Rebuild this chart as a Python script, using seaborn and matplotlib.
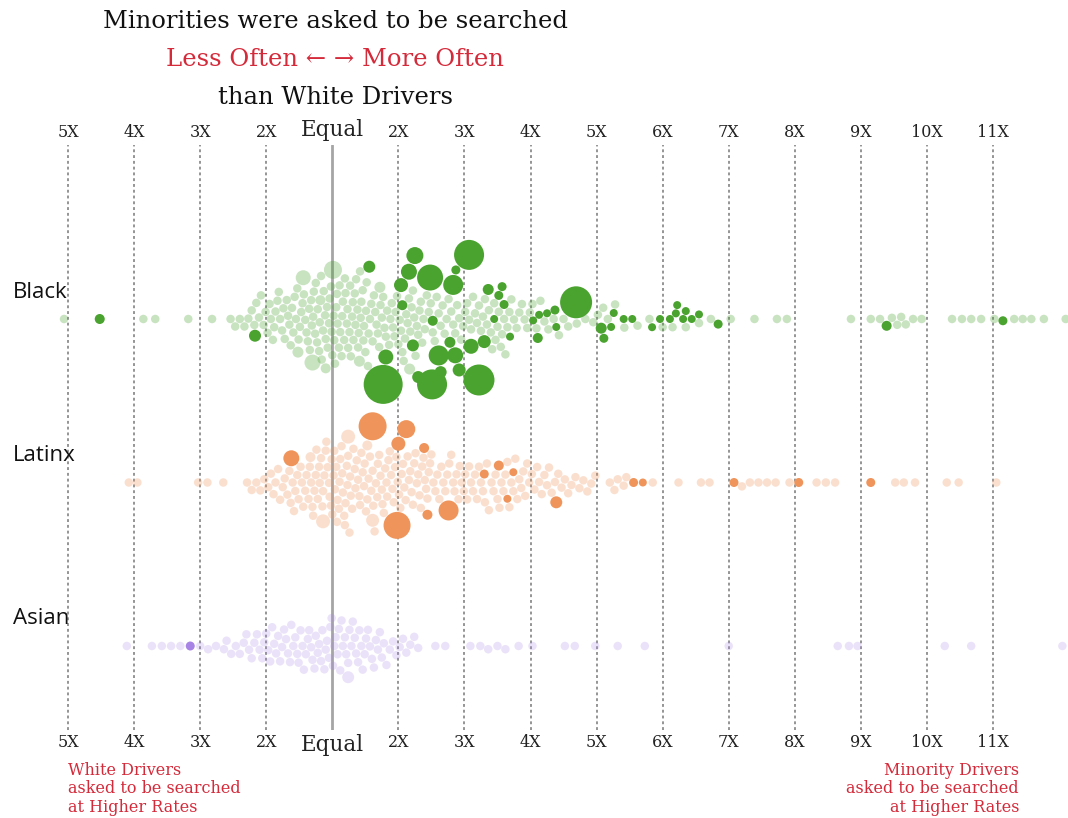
import numpy as np
import pandas as pd
import matplotlib
matplotlib.use("Agg")
import matplotlib.pyplot as plt
import matplotlib.transforms as mtransforms
import seaborn as sns

# ---------------- data ----------------
# x values are on a symmetric "times" scale: 0 = equal, +1 = 2X more often, -1 = 2X less often, ...
groups = ["Black", "Latinx", "Asian"]
tick_pos = [-4, -3, -2, -1, 0, 1, 2, 3, 4, 5, 6, 7, 8, 9, 10]
tick_labels = ["5X", "4X", "3X", "2X", "Equal", "2X", "3X", "4X", "5X",
               "6X", "7X", "8X", "9X", "10X", "11X"]

black_faint = [
    -4.06, -2.86, -2.68, -2.18, -1.82,
    -1.54, -1.47, -1.40, -1.33, -1.27,
    -1.22, -1.18, -1.15, -1.11, -1.08, -1.04, -1.01, -0.98, -0.95,
    -0.93, -0.90, -0.88, -0.86, -0.83, -0.81, -0.79, -0.76, -0.74, -0.72, -0.69, -0.67, -0.65,
    -0.63, -0.61, -0.59, -0.57, -0.55, -0.53, -0.51, -0.49, -0.47, -0.45, -0.43, -0.41, -0.39,
    -0.37, -0.35, -0.34,
    -0.32, -0.31, -0.29, -0.28, -0.26, -0.25, -0.23, -0.22, -0.20, -0.19, -0.17, -0.16, -0.14,
    -0.13, -0.11, -0.10, -0.08, -0.07, -0.05, -0.04, -0.02,
    -0.01, 0.00, 0.02, 0.03, 0.04, 0.06, 0.07, 0.08, 0.10, 0.11, 0.12, 0.14, 0.15, 0.16, 0.18,
    0.19, 0.20, 0.22, 0.23, 0.24, 0.26, 0.27,
    0.28, 0.30, 0.31, 0.32, 0.34, 0.35, 0.36, 0.38, 0.39, 0.40, 0.42, 0.43, 0.44, 0.46, 0.47,
    0.48, 0.50, 0.51, 0.52, 0.54, 0.55, 0.57,
    0.59, 0.61, 0.63, 0.65, 0.67, 0.69, 0.71, 0.73, 0.75, 0.77, 0.79, 0.81, 0.83, 0.86,
    0.88, 0.90, 0.92, 0.94, 0.96, 0.98, 1.00, 1.02, 1.04, 1.06, 1.08, 1.10, 1.12, 1.14, 1.16,
    1.18, 1.20, 1.22, 1.24, 1.26, 1.28, 1.30, 1.32, 1.34, 1.36, 1.38, 1.40, 1.43, 1.46,
    1.49, 1.52, 1.55, 1.58, 1.61, 1.64, 1.67, 1.70, 1.73, 1.76,
    1.80, 1.83, 1.86, 1.89, 1.92, 1.95, 1.98, 2.01, 2.04, 2.07,
    2.10, 2.13, 2.16, 2.19, 2.22, 2.25, 2.28, 2.31, 2.34, 2.37,
    2.40, 2.42, 2.45, 2.47, 2.50, 2.52, 2.55, 2.57, 2.60, 2.62, 2.65, 2.68,
    2.71, 2.75, 2.79, 2.83, 2.87, 2.91, 2.95, 2.99,
    3.03, 3.09, 3.15, 3.21, 3.27, 3.35, 3.43, 3.50, 3.57, 3.70, 3.83,
    3.95, 4.02, 4.10, 4.17, 4.28, 4.42,
    4.62, 4.80, 5.00, 5.15, 5.35, 5.55, 5.73, 6.03, 6.39, 6.73, 6.88,
    7.85, 8.15, 8.29, 8.47, 8.55, 8.61, 8.68, 8.79, 8.92,
    9.38, 9.53, 9.67, 9.82, 10.02, 10.32, 10.45, 10.58, 10.77, 11.10,
]
black_faint_big = [-0.30, -0.52, -0.44, -0.10, 0.01, 0.41, 0.72, 1.17, -0.18]
black_faint_big_size = [16, 11, 15, 10, 18, 11, 11, 11, 10]
black_dark = [
    -3.52, -1.17, 0.77, 1.25, 1.06, 0.56, 0.81, 1.16, 1.04, 1.30, 1.22,
    1.48, 1.92, 2.10, 2.30, 2.57, 2.45, 1.86, 1.64, 1.52, 1.83, 2.22, 1.51,
    1.87, 2.60, 2.69, 2.52, 2.36, 1.78, 2.07, 1.61,
    3.11, 3.37, 3.39, 3.04, 3.13, 3.25, 3.69,
    4.11, 4.26, 4.07, 4.22, 4.41, 4.54, 4.84, 4.96, 5.20, 5.22, 5.35, 5.55,
    5.11, 5.31, 5.44, 5.84, 8.39, 10.15,
]
black_dark_size = [
    10, 12, 39, 17, 10, 12, 15, 16, 14, 12, 12,
    26, 13, 15, 13, 9, 8, 16, 12, 10, 20, 31, 30,
    9, 9, 8, 9, 11, 11, 30, 20,
    10, 9, 8, 8, 8, 8, 32,
    9, 8, 11, 8, 8, 8, 8, 8, 8, 8, 8, 8,
    8, 8, 8, 9, 10, 9,
]

latinx_faint = [
    -3.08, -2.95, -2.03, -1.89, -1.65, -1.29,
    -1.22, -1.15, -1.09, -1.03, -0.97,
    -0.93, -0.89, -0.86, -0.82, -0.79, -0.75, -0.72, -0.68, -0.65,
    -0.63, -0.60, -0.58, -0.56, -0.53, -0.51, -0.48, -0.46, -0.44, -0.41, -0.39, -0.36, -0.34,
    -0.32, -0.30, -0.29, -0.27, -0.25, -0.24, -0.22, -0.20, -0.19, -0.17, -0.15, -0.14, -0.12,
    -0.10, -0.09, -0.07, -0.05, -0.04, -0.02,
    -0.01, 0.00, 0.02, 0.03, 0.04, 0.06, 0.07, 0.08, 0.10, 0.11, 0.12, 0.14, 0.15, 0.16, 0.18,
    0.19, 0.20, 0.22, 0.23, 0.24, 0.26, 0.27,
    0.28, 0.30, 0.32, 0.34, 0.35, 0.37, 0.39, 0.41, 0.42, 0.44, 0.46, 0.48, 0.49, 0.51, 0.53,
    0.55, 0.57,
    0.59, 0.61, 0.62, 0.64, 0.66, 0.68, 0.69, 0.71, 0.73, 0.75, 0.76, 0.78, 0.80, 0.82, 0.83,
    0.85, 0.87,
    0.89, 0.91, 0.93, 0.95, 0.97, 0.99, 1.01, 1.03, 1.05, 1.07, 1.09, 1.11, 1.14, 1.16,
    1.18, 1.20, 1.22, 1.24, 1.26, 1.28, 1.30, 1.32, 1.34, 1.36, 1.38, 1.40, 1.42, 1.44, 1.46, 1.48,
    1.50, 1.53, 1.56, 1.59, 1.62, 1.65, 1.68, 1.71, 1.74, 1.77,
    1.80, 1.83, 1.85, 1.88, 1.91, 1.93, 1.96, 1.99, 2.01, 2.04, 2.07,
    2.10, 2.13, 2.16, 2.19, 2.22, 2.25, 2.28, 2.31, 2.34, 2.37,
    2.41, 2.44, 2.47, 2.50, 2.53, 2.56, 2.59, 2.62, 2.65, 2.68,
    2.71, 2.74, 2.77, 2.80, 2.83, 2.86, 2.89, 2.92, 2.95, 2.98,
    3.02, 3.06, 3.10, 3.13, 3.17, 3.21, 3.25, 3.28,
    3.32, 3.37, 3.42, 3.47, 3.52, 3.57, 3.62, 3.68, 3.74, 3.80, 3.86, 3.92, 3.98,
    4.20, 4.27, 4.32, 4.41, 4.45, 4.85, 5.24, 5.58, 5.71,
    6.20, 6.32, 6.45, 6.58, 6.71, 6.92, 7.33, 7.47, 7.61,
    8.52, 8.65, 8.82, 9.30, 9.48, 10.05,
]
latinx_faint_big = [-0.14, 0.61, 0.24, 0.53, -0.33]
latinx_faint_big_size = [14, 13, 14, 10, 10]
latinx_dark = [
    -0.62, 1.12, 1.39, 0.61, 1.00, 1.76, 0.98, 1.44,
    2.30, 2.74, 2.52, 2.65, 3.39, 4.56, 4.70, 6.08, 7.06, 8.15,
]
latinx_dark_size = [
    16, 18, 10, 28, 14, 20, 27, 10,
    9, 8, 10, 8, 12, 9, 8, 9, 9, 9,
]

asian_faint = [
    -3.11, -2.73, -2.58, -2.44, -2.30, -2.00, -1.88, -1.76, -1.64,
    -1.60, -1.53, -1.46, -1.40, -1.34,
    -1.30, -1.26, -1.22, -1.18, -1.14, -1.10, -1.06, -1.03,
    -1.00, -0.97, -0.94, -0.91, -0.88, -0.85, -0.82, -0.79, -0.76, -0.73,
    -0.70, -0.67, -0.64, -0.62, -0.59, -0.56, -0.53, -0.51, -0.48, -0.45, -0.43,
    -0.40, -0.37, -0.35, -0.32, -0.30, -0.27, -0.25, -0.22, -0.20, -0.17, -0.15, -0.12,
    -0.10, -0.08, -0.05, -0.03, -0.01, 0.01, 0.03, 0.05, 0.08, 0.10, 0.12, 0.14, 0.16, 0.19,
    0.21, 0.24, 0.26, 0.29, 0.31, 0.34, 0.36, 0.39, 0.41, 0.44, 0.46, 0.49,
    0.51, 0.54, 0.57, 0.60, 0.63, 0.66, 0.69, 0.72, 0.75, 0.78,
    0.82, 0.87, 0.92, 0.97, 1.02, 1.07, 1.12, 1.18, 1.24,
    1.30, 1.56, 1.71, 2.09, 2.24, 2.36, 2.50, 2.62, 2.82, 3.03, 3.52, 3.67, 3.98, 4.32, 4.73,
    6.00, 7.65, 7.82, 7.95, 9.27, 9.67, 11.05,
]
asian_faint_big = [0.24]
asian_faint_big_size = [12]
asian_dark = [-2.15]
asian_dark_size = [9]

faint_colors = {"Black": (0.29, 0.64, 0.19, 0.30),
                "Latinx": (0.94, 0.58, 0.36, 0.29),
                "Asian": (0.66, 0.52, 0.89, 0.23)}
dark_colors = {"Black": "#4aa32f", "Latinx": "#ef955c", "Asian": "#a883e6"}
RED = "#d42a3a"

# ---------------- figure ----------------
sns.set_style("white")
plt.rcParams["font.family"] = ["DejaVu Serif"]

W, H = 1068, 818
fig = plt.figure(figsize=(W / 100, H / 100), dpi=100)
ax_top_px, ax_bot_px = 145, 730
ax = fig.add_axes([0, 1 - ax_bot_px / H, 1, (ax_bot_px - ax_top_px) / H])

px_per_unit = 66.07
x0_px = 332.3
xmin = (0 - x0_px) / px_per_unit
xmax = (W - x0_px) / px_per_unit

row_px = [319, 483, 646]
row_gap = 163.5
ymin_d = (ax_top_px - row_px[0]) / row_gap
ymax_d = (ax_bot_px - row_px[0]) / row_gap

series = {
    "Black": (black_faint, black_faint_big, black_faint_big_size, black_dark, black_dark_size),
    "Latinx": (latinx_faint, latinx_faint_big, latinx_faint_big_size, latinx_dark, latinx_dark_size),
    "Asian": (asian_faint, asian_faint_big, asian_faint_big_size, asian_dark, asian_dark_size),
}
base_px = 8.5

for gi, g in enumerate(groups):
    faint, fbig, fbig_s, dark, dark_s = series[g]
    xs = list(faint) + list(fbig) + list(dark)
    sz = [base_px] * len(faint) + list(fbig_s) + list(dark_s)
    kind = ["faint"] * (len(faint) + len(fbig)) + ["dark"] * len(dark)
    df = pd.DataFrame({"x": xs, "size_px": sz, "kind": kind})
    df["row"] = float(gi)
    sns.swarmplot(data=df, x="x", y="row", hue="kind",
                  palette={"faint": faint_colors[g], "dark": dark_colors[g]},
                  orient="y", native_scale=True,
                  s=(df["size_px"].to_numpy() * 0.72), linewidth=0,
                  legend=False, ax=ax, zorder=3, warn_thresh=1.0)

# grid lines
for p in tick_pos:
    if p == 0:
        ax.axvline(p, color="#a5a5a5", lw=2.0, zorder=2)
    else:
        ax.axvline(p, color="#8c8c8c", lw=1.3, ls=(0, (1.6, 1.6)), zorder=1)

ax.set_xlim(xmin, xmax)
ax.set_ylim(ymax_d, ymin_d)
for s in ax.spines.values():
    s.set_visible(False)
ax.set_ylabel("")
ax.set_xlabel("")
ax.set_yticks([])
ax.set_xticks(tick_pos, tick_labels)
ax.tick_params(axis="x", length=0, labeltop=True, labelbottom=True, pad=3)
for tick, lab in zip(ax.xaxis.get_major_ticks(), tick_labels):
    for t in (tick.label1, tick.label2):
        t.set_color("#222222")
        t.set_fontsize(15.5 if lab == "Equal" else 11.5)

# group labels
trans = mtransforms.blended_transform_factory(ax.transAxes, ax.transData)
for gi, g in enumerate(groups):
    ax.text(13 / W, gi - 27 / row_gap, g, transform=trans, ha="left", va="center",
            fontsize=16, family=["Open Sans", "DejaVu Sans"], color="#111111")

# headings
cx = 335 / W
fig.text(cx, 1 - 22 / H, "Minorities were asked to be searched", ha="center", va="center",
         fontsize=17.5, color="#111111")
fig.text(cx, 1 - 60 / H, "Less Often \u2190 \u2192 More Often", ha="center", va="center",
         fontsize=17.5, color=RED)
fig.text(cx, 1 - 98 / H, "than White Drivers", ha="center", va="center",
         fontsize=17.5, color="#111111")

# bottom annotations
fig.text(68 / W, 1 - 762 / H, "White Drivers\nasked to be searched\nat Higher Rates",
         ha="left", va="top", fontsize=11.5, color=RED, linespacing=1.1)
fig.text(1019 / W, 1 - 762 / H, "Minority Drivers\nasked to be searched\nat Higher Rates",
         ha="right", va="top", fontsize=11.5, color=RED,
         linespacing=1.1, multialignment="right")

fig.savefig("out.png", dpi=100, facecolor="white")
